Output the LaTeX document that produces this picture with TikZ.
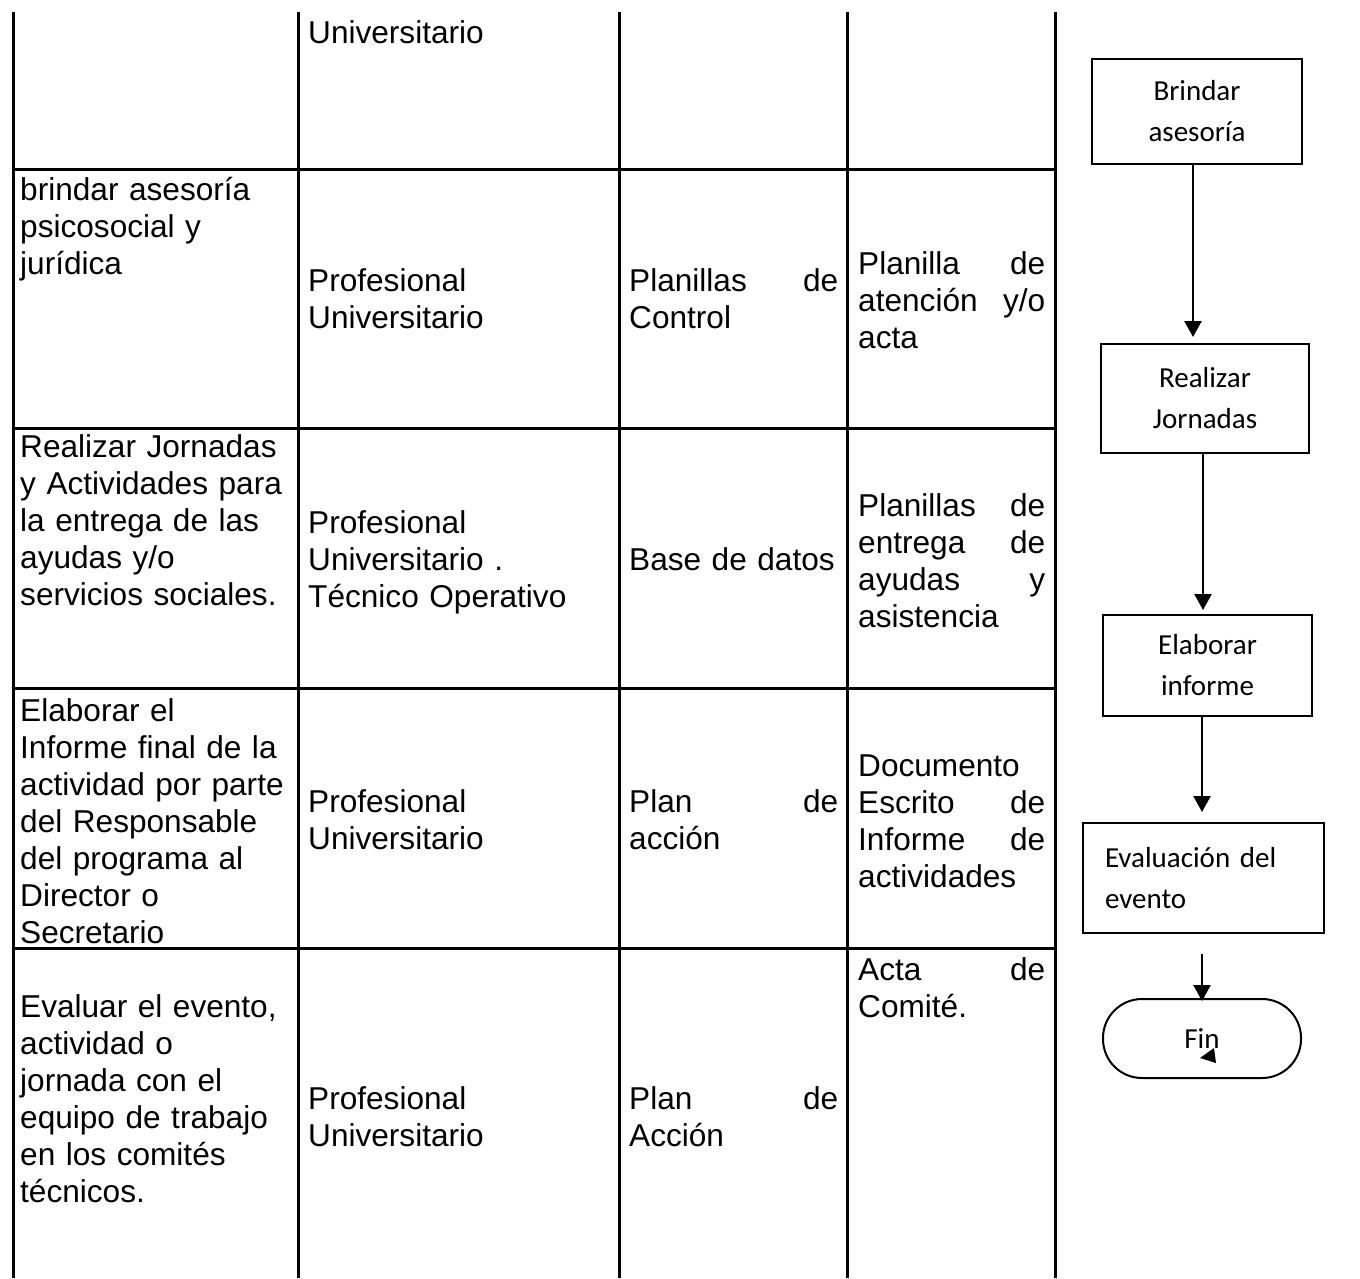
\documentclass[tikz,border=0pt]{standalone}
\usepackage{fontspec}
\setmainfont{Liberation Sans}
\newfontfamily\calfont{Carlito}
\usetikzlibrary{arrows.meta}
\begin{document}
\begin{tikzpicture}[x=1pt,y=-1pt,
  tline/.style={line width=3pt},
  cell/.style={anchor=base west, inner sep=0pt, align=left, font=\fontsize{31.6}{37}\selectfont},
  cA/.style={cell, text width=275pt},
  cB/.style={cell, text width=295pt},
  cC/.style={cell, text width=209pt},
  cD/.style={cell, text width=187pt},
  fbox/.style={draw, line width=2pt, inner sep=0pt, align=center, font=\calfont\fontsize{29}{41}\selectfont},
  arr/.style={line width=2.4pt, -{Triangle[width=17pt,length=16pt]}}]
\useasboundingbox (0,0) rectangle (1360,1278);
% table grid
\foreach \x in {13,298,619,847,1055} \draw[tline] (\x,12) -- (\x,1278);
\foreach \y in {169,428,688,948} \draw[tline] (11.5,\y) -- (1056.5,\y);
% row 1
\node[cB] (r1b) at (308,43) {Universitario};
% row 2
\node[cA] (r2a) at (20,200.5) {brindar asesoría\\psicosocial y\\jurídica};
\node[cB] (r2b) at (308,291.5) {Profesional\\Universitario};
\node[cC] (r2c) at (629,291.5) {Planillas\hfill de\\Control};
\node[cD] (r2d) at (858,274.5) {Planilla\hfill de\\atención\hfill y/o\\acta};
% row 3
\node[cA] (r3a) at (20,457.5) {Realizar Jornadas\\y Actividades para\\la entrega de las\\ayudas y/o\\servicios sociales.};
\node[cB] (r3b) at (308,533.5) {Profesional\\Universitario .\\Técnico Operativo};
\node[cC] (r3c) at (629,570.5) {Base de datos};
\node[cD] (r3d) at (858,516.5) {Planillas\hfill de\\entrega\hfill de\\ayudas\hfill y\\asistencia};
% row 4
\node[cA] (r4a) at (20,721.5) {Elaborar el\\Informe final de la\\actividad por parte\\del Responsable\\del programa al\\Director o\\Secretario};
\node[cB] (r4b) at (308,812.5) {Profesional\\Universitario};
\node[cC] (r4c) at (629,812.5) {Plan\hfill de\\acción};
\node[cD] (r4d) at (858,776.5) {Documento\\Escrito\hfill de\\Informe\hfill de\\actividades};
% row 5
\node[cA] (r5a) at (20,1017.5) {Evaluar el evento,\\actividad o\\jornada con el\\equipo de trabajo\\en los comités\\técnicos.};
\node[cB] (r5b) at (308,1109.5) {Profesional\\Universitario};
\node[cC] (r5c) at (629,1109.5) {Plan\hfill de\\Acción};
\node[cD] (r5d) at (858,980.5) {Acta\hfill de\\Comité.};
% flowchart
\node[fbox, minimum width=210pt, minimum height=105pt] (b1) at (1197,111.5) {Brindar\\asesoría};
\node[fbox, minimum width=208pt, minimum height=109pt] (b2) at (1205,398.5) {Realizar\\Jornadas};
\node[fbox, minimum width=209pt, minimum height=101pt] (b3) at (1207.5,665.5) {Elaborar\\informe};
\node[fbox, minimum width=241pt, minimum height=110pt, align=left, text width=197pt] (b4) at (1203.5,878) {Evaluación del\\evento};
\node[fbox, rounded corners=39pt, minimum width=198pt, minimum height=79pt] (fin) at (1202,1038.5) {Fin};
\draw[arr, shorten >=6pt] ([xshift=-4pt]b1.south) -- ([xshift=-4pt]b1.south |- b2.north);
\draw[arr, shorten >=4pt] ([xshift=-2pt]b2.south) -- ([xshift=-2pt]b2.south |- b3.north);
\draw[arr, shorten >=10pt] ([xshift=-5.5pt]b3.south) -- ([xshift=-5.5pt]b3.south |- b4.north);
\draw[arr, shorten <=20pt, shorten >=-3pt] ([xshift=-1.5pt]b4.south) -- ([xshift=-1.5pt]b4.south |- fin.north);
\fill (1200,1058) -- (1214,1048) -- (1216,1063) -- cycle;
\end{tikzpicture}
\end{document}
